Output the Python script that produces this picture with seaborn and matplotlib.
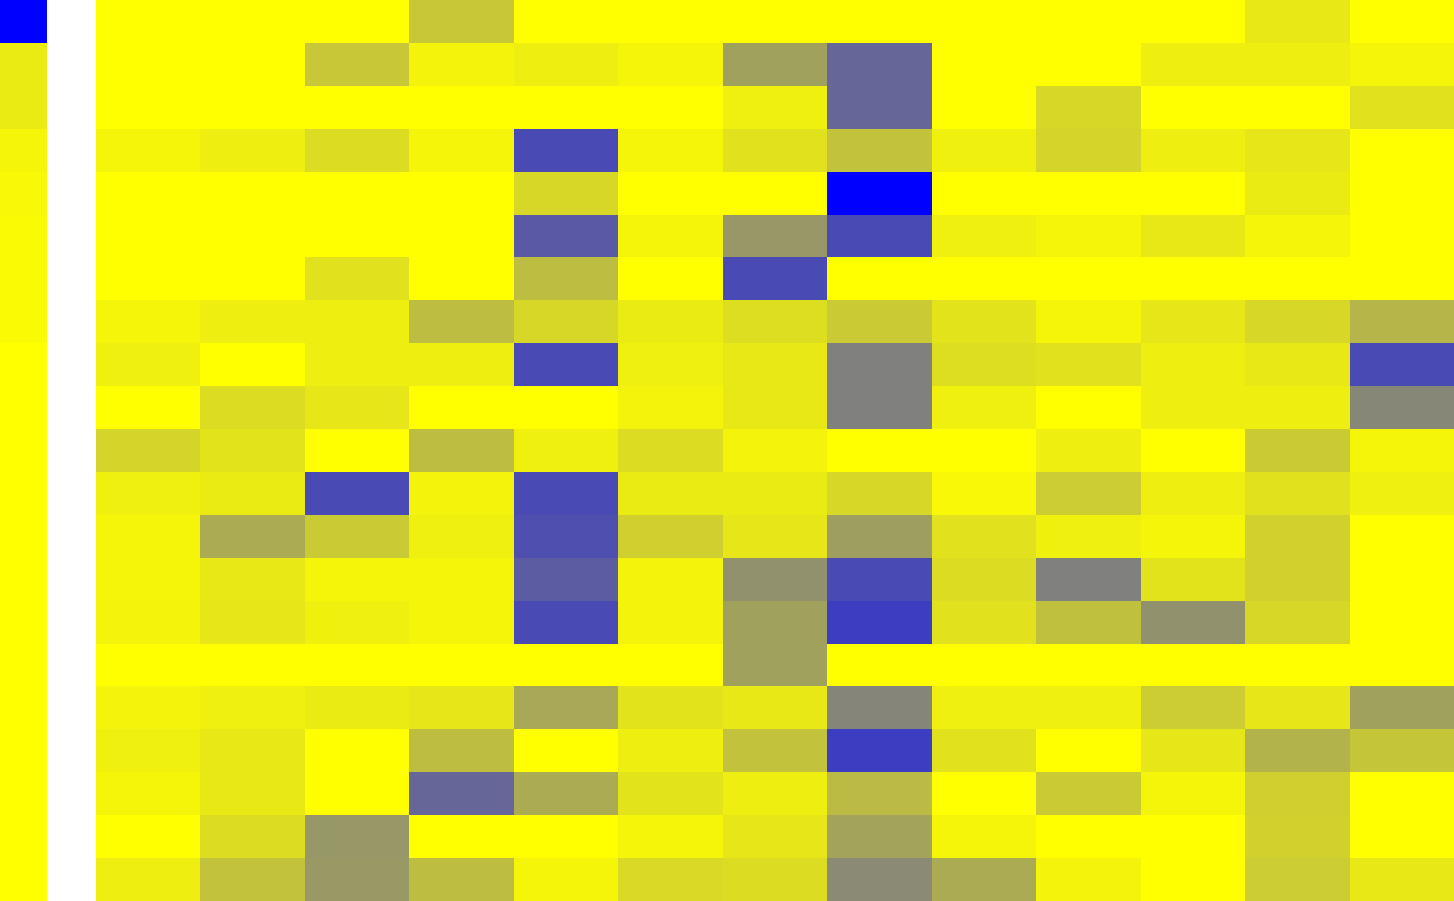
import numpy as np
import matplotlib
matplotlib.use("Agg")
import matplotlib.pyplot as plt
import seaborn as sns
from matplotlib.colors import LinearSegmentedColormap

# narrow side strip (one value per row)
side_values = [0.0, 0.92, 0.92, 0.96, 0.97, 0.98, 0.98, 0.98, 1.0, 1.0, 1.0,
               1.0, 1.0, 1.0, 1.0, 1.0, 1.0, 1.0, 1.0, 1.0, 1.0]

# main grid, 21 rows x 13 columns
row_00 = [1.00, 1.00, 1.00, 0.78, 1.00, 1.00, 1.00, 1.00, 1.00, 1.00, 1.00, 0.91, 1.00]
row_01 = [1.00, 1.00, 0.78, 0.95, 0.93, 0.96, 0.63, 0.40, 1.00, 1.00, 0.93, 0.93, 0.96]
row_02 = [1.00, 1.00, 1.00, 1.00, 1.00, 1.00, 0.94, 0.40, 1.00, 0.84, 1.00, 1.00, 0.88]
row_03 = [0.96, 0.93, 0.86, 0.96, 0.29, 0.96, 0.88, 0.76, 0.94, 0.83, 0.93, 0.90, 1.00]
row_04 = [1.00, 1.00, 1.00, 1.00, 0.84, 1.00, 1.00, 0.00, 1.00, 1.00, 1.00, 0.92, 1.00]
row_05 = [1.00, 1.00, 1.00, 1.00, 0.35, 0.96, 0.59, 0.29, 0.94, 0.96, 0.91, 0.96, 1.00]
row_06 = [1.00, 1.00, 0.88, 1.00, 0.74, 1.00, 0.29, 1.00, 1.00, 1.00, 1.00, 1.00, 1.00]
row_07 = [0.96, 0.93, 0.93, 0.74, 0.84, 0.92, 0.87, 0.79, 0.89, 0.96, 0.90, 0.84, 0.71]
row_08 = [0.94, 1.00, 0.93, 0.93, 0.29, 0.94, 0.91, 0.50, 0.87, 0.88, 0.93, 0.91, 0.29]
row_09 = [1.00, 0.86, 0.90, 1.00, 1.00, 0.95, 0.91, 0.50, 0.94, 1.00, 0.93, 0.93, 0.53]
row_10 = [0.83, 0.89, 1.00, 0.74, 0.94, 0.86, 0.95, 1.00, 1.00, 0.93, 1.00, 0.79, 0.96]
row_11 = [0.94, 0.92, 0.29, 0.95, 0.29, 0.92, 0.92, 0.84, 0.97, 0.80, 0.93, 0.88, 0.94]
row_12 = [0.96, 0.67, 0.79, 0.94, 0.31, 0.81, 0.90, 0.62, 0.88, 0.94, 0.96, 0.82, 1.00]
row_13 = [0.96, 0.91, 0.96, 0.96, 0.36, 0.95, 0.57, 0.29, 0.86, 0.50, 0.89, 0.82, 1.00]
row_14 = [0.95, 0.90, 0.94, 0.96, 0.29, 0.95, 0.63, 0.24, 0.88, 0.75, 0.57, 0.84, 1.00]
row_15 = [1.00, 1.00, 1.00, 1.00, 1.00, 1.00, 0.63, 1.00, 1.00, 1.00, 1.00, 1.00, 1.00]
row_16 = [0.95, 0.94, 0.92, 0.90, 0.66, 0.89, 0.91, 0.52, 0.94, 0.94, 0.80, 0.90, 0.63]
row_17 = [0.94, 0.91, 1.00, 0.74, 1.00, 0.93, 0.76, 0.24, 0.88, 1.00, 0.90, 0.70, 0.77]
row_18 = [0.96, 0.91, 1.00, 0.40, 0.67, 0.89, 0.93, 0.73, 1.00, 0.79, 0.96, 0.81, 1.00]
row_19 = [1.00, 0.86, 0.59, 1.00, 1.00, 0.96, 0.90, 0.64, 0.96, 1.00, 1.00, 0.82, 1.00]
row_20 = [0.93, 0.76, 0.60, 0.74, 0.96, 0.85, 0.86, 0.54, 0.67, 0.95, 1.00, 0.80, 0.91]

grid = np.array([row_00, row_01, row_02, row_03, row_04, row_05, row_06,
                 row_07, row_08, row_09, row_10, row_11, row_12, row_13,
                 row_14, row_15, row_16, row_17, row_18, row_19, row_20])

cmap = LinearSegmentedColormap.from_list("blue_yellow", ["#0000ff", "#ffff00"])

W, H = 1454, 901
fig = plt.figure(figsize=(W / 100, H / 100), dpi=100, facecolor="white")
ax_side = fig.add_axes([0, 0, 47 / W, 1])
ax_main = fig.add_axes([96 / W, 0, (W - 96) / W, 1])

sns.heatmap(np.array(side_values).reshape(-1, 1), ax=ax_side, cmap=cmap,
            vmin=0, vmax=1, cbar=False, xticklabels=False, yticklabels=False)
sns.heatmap(grid, ax=ax_main, cmap=cmap, vmin=0, vmax=1, cbar=False,
            xticklabels=False, yticklabels=False)

for ax in (ax_side, ax_main):
    ax.set_xlabel("")
    ax.set_ylabel("")
    for s in ax.spines.values():
        s.set_visible(False)

fig.savefig("out.png", dpi=100, facecolor="white")
